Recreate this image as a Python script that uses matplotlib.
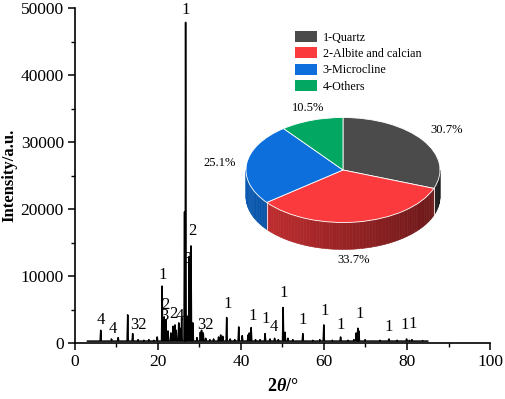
import numpy as np
import matplotlib
matplotlib.use('Agg')
import matplotlib.pyplot as plt
from matplotlib.patches import Patch

plt.rcParams['font.family'] = 'serif'
plt.rcParams['font.serif'] = ['Liberation Serif', 'DejaVu Serif']
plt.rcParams['mathtext.fontset'] = 'custom'
plt.rcParams['mathtext.rm'] = 'Liberation Serif'
plt.rcParams['mathtext.it'] = 'Liberation Serif:italic'
plt.rcParams['mathtext.bf'] = 'Liberation Serif:bold'
plt.rcParams['mathtext.bfit'] = 'Liberation Serif:italic:bold'

# XRD peaks: 2theta (deg) and intensity (a.u.)
peak_2theta = [6.2, 8.8, 10.4, 12.7, 13.9, 15.2, 16.6, 17.8, 19.0, 19.8,
               21.0, 21.5, 21.9, 22.4, 23.1, 23.6, 24.1, 24.4, 25.0, 25.3,
               25.7, 26.4, 26.65, 27.1, 27.5, 27.95, 28.4, 29.4, 30.2, 30.5,
               30.9, 31.5, 32.5, 33.4, 34.6, 35.1, 35.6, 36.55, 37.4, 38.5,
               39.45, 40.3, 41.7, 42.0, 42.45, 43.5, 44.6, 45.8, 47.0, 48.1,
               49.0, 50.15, 50.6, 51.3, 52.5, 54.9, 57.3, 59.0, 59.95, 62.0,
               64.0, 65.8, 67.2, 67.75, 68.15, 68.4, 69.9, 71.5, 73.5, 75.65,
               77.6, 79.9, 80.6, 81.2, 83.8]
peak_int = [1900, 600, 800, 4200, 1400, 500, 400, 500, 400, 900,
            8500, 3900, 3500, 1800, 1500, 2500, 2700, 1900, 3000, 2200,
            3800, 19600, 47900, 4000, 12900, 14500, 3000, 800, 1600, 1900,
            1500, 700, 500, 600, 900, 1200, 1000, 3800, 600, 500,
            2400, 1100, 1200, 1500, 2300, 500, 500, 1400, 600, 700,
            500, 5300, 1600, 700, 500, 1400, 400, 500, 2700, 400,
            900, 400, 500, 1500, 2200, 1800, 500, 300, 400, 600,
            400, 600, 400, 500, 350]
baseline = 280
scan_range = [3.0, 85.0]

# phase labels over peaks
lab_text = ['4', '4', '32', '1', '3', '2', '2', '4', '1', '3', '2', '32',
            '1', '1', '1', '4', '1', '1', '1', '1', '1', '1', '1', '1']
lab_x = [6.3, 9.0, 15.4, 21.1, 21.6, 21.8, 23.7, 25.3, 26.7, 27.15, 28.35, 31.4,
         36.8, 42.8, 46.0, 48.0, 50.4, 54.9, 60.2, 64.0, 68.5, 75.7, 79.4, 81.4]
lab_y = [3430, 2040, 2690, 10150, 4000, 5650, 4330, 4080, 49700, 12600, 16800, 2690,
         5820, 4080, 3540, 2440, 7410, 3430, 4820, 2690, 4330, 2440, 2690, 2840]

# phase composition
phases = ['1-Quartz', '2-Albite and calcian', '3-Microcline', '4-Others']
fractions = [30.7, 33.7, 25.1, 10.5]
pct_text = ['30.7%', '33.7%', '25.1%', '10.5%']
top_colors = ['#4b4b4b', '#fb3a3d', '#0c6fdc', '#02a862']

# build the line trace from the peak list
pts = [(scan_range[0], baseline), (scan_range[1], baseline)]
hw = 0.14
for p, h in zip(peak_2theta, peak_int):
    pts += [(p - hw, baseline), (p, h), (p + hw, baseline)]
pts.sort(key=lambda t: t[0])
tx = [t[0] for t in pts]
ty = [t[1] for t in pts]

fig = plt.figure(figsize=(5.05, 3.99), dpi=100)
ax = fig.add_axes([0.1485, 0.1404, 0.8218, 0.8388])
ax.plot(tx, ty, color='black', lw=1.1)
for s, x, y in zip(lab_text, lab_x, lab_y):
    ax.text(x, y, s, ha='center', va='center', fontsize=12)

ax.set_xlim(0, 100)
ax.set_ylim(0, 50000)
ax.set_xticks(np.arange(0, 101, 20))
ax.set_xticks(np.arange(10, 100, 20), minor=True)
ax.set_yticks(np.arange(0, 50001, 10000))
ax.set_yticks(np.arange(5000, 50000, 10000), minor=True)
ax.spines['top'].set_visible(False)
ax.spines['right'].set_visible(False)
for sp in ['left', 'bottom']:
    ax.spines[sp].set_linewidth(1.2)
ax.tick_params(which='major', direction='out', length=5, width=1.1, labelsize=12.5, pad=3)
ax.tick_params(which='minor', direction='out', length=3, width=1.0)
ax.set_ylabel('Intensity/a.u.', fontsize=12, fontweight='bold')
ax.yaxis.set_label_coords(-0.138, 0.5)
ax.set_xlabel(r'$\mathbf{2}\mathbfit{\theta}\mathbf{/°}$', fontsize=13)
ax.xaxis.set_label_coords(0.5, -0.105)

# 3D-looking pie
pax = fig.add_axes([0.4673, 0.3108, 0.4238, 0.4511])
wedges, _ = pax.pie(fractions, colors=top_colors, startangle=90, counterclock=False,
                    wedgeprops=dict(edgecolor='white', linewidth=0.6))
pax.set_aspect('auto')
pax.set_xlim(-1.103, 1.103)
pax.set_ylim(-2.0, 1.4286)
pax.axis('off')
depth = 0.514
for w in wedges:
    w.set_zorder(3)
    col = np.array(matplotlib.colors.to_rgb(w.get_facecolor()))
    for lo, hi in [(-180, 0), (180, 360)]:
        a1 = max(w.theta1, lo)
        a2 = min(w.theta2, hi)
        if a2 <= a1:
            continue
        ts = np.linspace(a1, a2, int((a2 - a1) / 2) + 2)
        for t1, t2 in zip(ts[:-1], ts[1:]):
            xm = np.cos(np.radians((t1 + t2) / 2))
            f = 0.8 - 0.38 * (xm + 1) / 2
            c = col * f
            xs = [np.cos(np.radians(t1)), np.cos(np.radians(t2))]
            ys = [np.sin(np.radians(t1)), np.sin(np.radians(t2))]
            pax.fill([xs[0], xs[1], xs[1], xs[0]],
                     [ys[0], ys[1], ys[1] - depth, ys[0] - depth],
                     color=c, lw=0.4, ec=c, zorder=1)
        for a in (a1, a2):
            if lo < a < hi:
                xa, ya = np.cos(np.radians(a)), np.sin(np.radians(a))
                pax.plot([xa, xa], [ya, ya - depth], color='#f0d0d0', lw=0.6, zorder=2)

pct_pos = [(1.07, 0.76), (0.106, -1.714), (-1.27, 0.13), (-0.36, 1.175)]
for s, (x, y) in zip(pct_text, pct_pos):
    pax.text(x, y, s, ha='center', va='center', fontsize=9)

handles = [Patch(facecolor=c, edgecolor='none') for c in top_colors]
fig.legend(handles, phases, loc='upper left', bbox_to_anchor=(295 / 505, 1 - 31 / 399),
           frameon=False, borderpad=0, borderaxespad=0, handlelength=1.85,
           handleheight=1.0, handletextpad=0.45, labelspacing=0.32, fontsize=8.7)

fig.savefig('out.png', dpi=100)
